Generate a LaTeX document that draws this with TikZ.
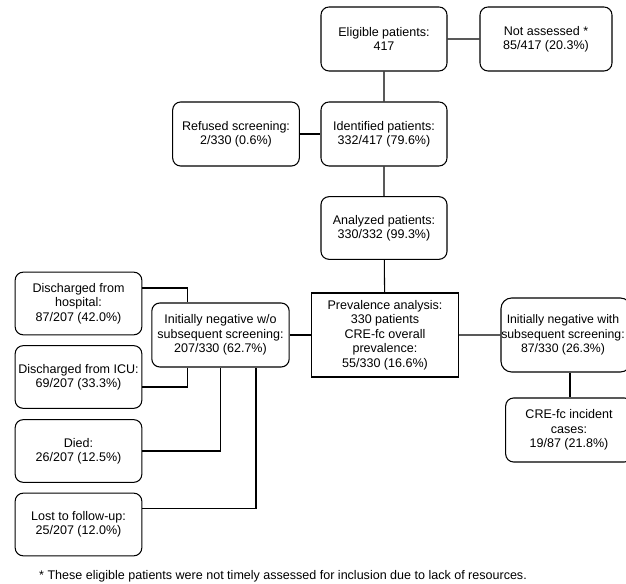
\documentclass[tikz,border=0pt]{standalone}
\usepackage{fontspec}
\setmainfont{Liberation Sans}
\begin{document}
\begin{tikzpicture}[x=0.75pt,y=0.75pt]
\tikzstyle{box}=[rectangle, draw, rounded corners=6pt, line width=0.8pt, align=center,
                        inner sep=1pt, font = \fontsize{9.4}{10.8}\selectfont]
\tikzstyle{sq}=[box, rounded corners=0pt]
\useasboundingbox (0,0) rectangle (626,-584);
	\node[box, minimum width=94.5pt, minimum height=48pt] (elig) at (384,-39){Eligible patients:\\417};
	\node[box, minimum width=99pt, minimum height=48pt] (notass) at (546,-39){Not assessed *\\85/417 (20.3\%)};
	\node[box, minimum width=95pt, minimum height=48pt] (refus) at (236,-134){Refused screening:\\2/330 (0.6\%)};
	\node[box, minimum width=94.5pt, minimum height=48pt] (ident) at (384,-134){Identified patients:\\332/417 (79.6\%)};
	\node[box, minimum width=94.5pt, minimum height=47pt] (anal) at (384,-228){Analyzed patients:\\330/332 (99.3\%)};
	\node[sq, minimum width=110pt, minimum height=63pt] (prev) at (385,-335){Prevalence analysis:\\330 patients\\CRE-fc overall\\prevalence:\\55/330 (16.6\%)};
	\node[box, minimum width=97.5pt, minimum height=55.5pt, rounded corners=8pt] (with) at (566,-335){};
	\node[align=center, font = \fontsize{9.2}{10.8}\selectfont] (withtxt) at (563,-335){Initially negative with\\subsequent screening:\\87/330 (26.3\%)};
	\node[box, minimum width=95pt, minimum height=48pt] (inc) at (569,-430){CRE-fc incident\\cases:\\19/87 (21.8\%)};
	\node[box, minimum width=103pt, minimum height=48pt] (wo) at (220.5,-335){Initially negative w/o\\subsequent screening:\\207/330 (62.7\%)};
	\node[box, minimum width=95pt, minimum height=47pt] (hosp) at (78.5,-303.5){Discharged from\\hospital:\\87/207 (42.0\%)};
	\node[box, minimum width=95pt, minimum height=47pt] (icu) at (78.5,-377){Discharged from ICU:\\69/207 (33.3\%)};
	\node[box, minimum width=95pt, minimum height=47pt] (died) at (78.5,-451){Died:\\26/207 (12.5\%)};
	\node[box, minimum width=95pt, minimum height=47pt] (lost) at (78.5,-524.5){Lost to follow-up:\\25/207 (12.0\%)};
	\node[font = \fontsize{9.4}{10.8}\selectfont] (note) at (283,-576){* These eligible patients were not timely assessed for inclusion due to lack of resources.};
\draw[line width=0.8pt] (notass)--(elig)--(ident)--(anal)--(prev)--(with);
\draw[line width=0.8pt] (refus)--(ident);
\draw[line width=0.8pt] (wo)--(prev);
\draw[line width=0.8pt] ([xshift=3pt]with.south)--([xshift=3pt]with.south |- inc.north);
\draw[line width=0.8pt] ([yshift=11.6pt]hosp.east) -| ([xshift=-25pt]wo.north);
\draw[line width=0.8pt] ([yshift=-7.5pt]icu.east) -| ([xshift=-25pt]wo.south);
\draw[line width=0.8pt] (died.east) -| (wo.south);
\draw[line width=0.8pt] ([yshift=12pt]lost.east) -| ([xshift=26.6pt]wo.south);
\end{tikzpicture}
\end{document}
